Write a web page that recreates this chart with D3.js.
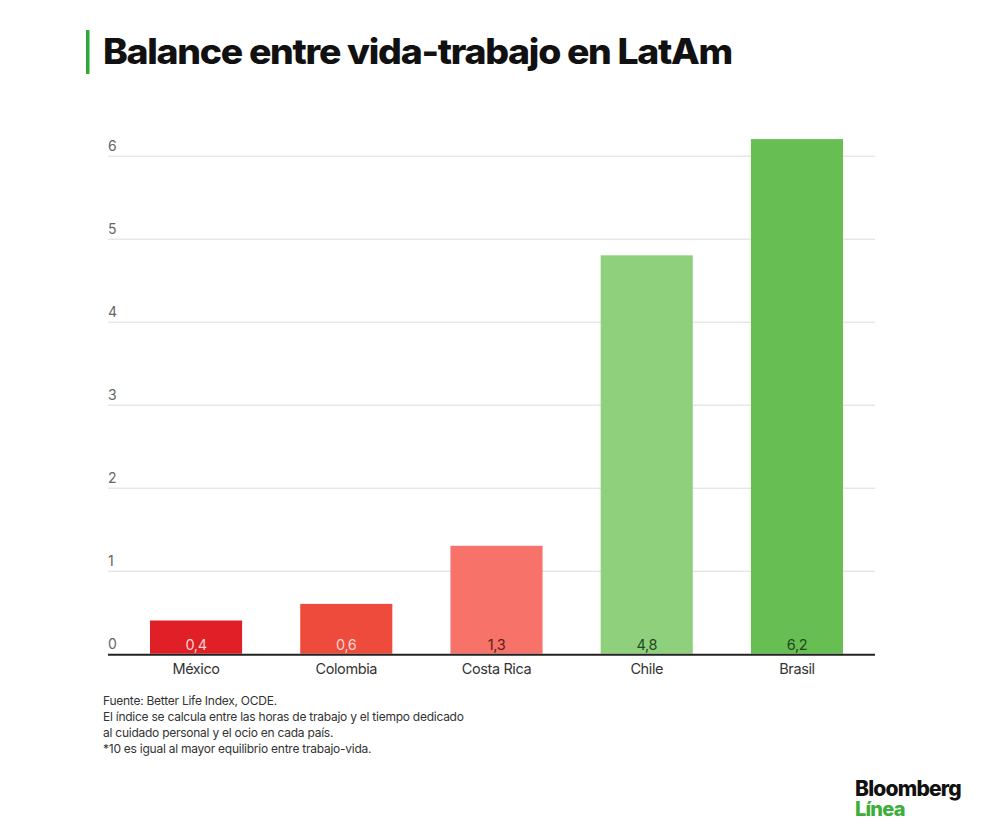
<!DOCTYPE html>
<html><head><meta charset="utf-8">
<script src="https://cdn.jsdelivr.net/npm/d3@7"></script>
<style>body{margin:0;background:#fff;} svg{display:block;}</style>
</head><body>
<svg id="c" width="1000" height="832"></svg>
<script>
const categories = ["México","Colombia","Costa Rica","Chile","Brasil"];
const values = [0.4,0.6,1.3,4.8,6.2];
const valueLabels = ["0,4","0,6","1,3","4,8","6,2"];
const barColors = ["#e01f26","#ef4b3c","#f7736a","#8fd07d","#67bf53"];
const labelColors = ["#fbd3cf","#fbd3cf","#5a1d19","#214a1c","#214a1c"];
const yTicks = [0,1,2,3,4,5,6];
const notes = ["Fuente: Better Life Index, OCDE.",
  "El índice se calcula entre las horas de trabajo y el tiempo dedicado",
  "al cuidado personal y el ocio en cada país.",
  "*10 es igual al mayor equilibrio entre trabajo-vida."];

const svg = d3.select("#c");
const x = d3.scaleBand().domain(categories).range([121,872]).paddingInner(0.387).paddingOuter(0.193);
const y = d3.scaleLinear().domain([0,6]).range([653.7,155.7]);
const gx0 = 108, gx1 = 875;

// title
svg.append("rect").attr("x",86).attr("y",30).attr("width",3.5).attr("height",44).attr("fill","#2ea836");
const title = svg.append("text").attr("x",103).attr("y",64).attr("font-family","Inter, Roboto, sans-serif")
  .attr("font-weight",800).attr("font-size",35).attr("fill","#111").attr("letter-spacing",-1.2)
  .text("Balance entre vida-trabajo en LatAm");
const tw = title.node().getComputedTextLength();
if (tw>0) title.attr("textLength",629).attr("lengthAdjust","spacingAndGlyphs");

// gridlines
const yAxis = d3.axisLeft(y).tickValues(yTicks.filter(d=>d>0)).tickSize(-(gx1-gx0)).tickFormat("");
const ga = svg.append("g").attr("transform",`translate(${gx0},0)`).call(yAxis);
ga.select(".domain").remove();
ga.selectAll(".tick line").attr("stroke","#dcdcdc").attr("stroke-width",1);

// tick labels
svg.append("g").selectAll("text").data(yTicks).join("text")
  .attr("x",gx0).attr("y",d=>y(d)-5).attr("font-family","Inter, Roboto, sans-serif")
  .attr("font-size",14).attr("fill","#666").text(d=>d);

// bars
svg.append("g").selectAll("rect").data(values).join("rect")
  .attr("x",(d,i)=>x(categories[i])).attr("width",x.bandwidth())
  .attr("y",d=>y(d)).attr("height",d=>y(0)-y(d)).attr("fill",(d,i)=>barColors[i]);

// value labels
svg.append("g").selectAll("text").data(values).join("text")
  .attr("x",(d,i)=>x(categories[i])+x.bandwidth()/2).attr("y",y(0)-4)
  .attr("text-anchor","middle").attr("font-family","Inter, Roboto, sans-serif")
  .attr("font-size",14.5).attr("fill",(d,i)=>labelColors[i]).attr("letter-spacing",-0.4).text((d,i)=>valueLabels[i]);

// baseline axis
const xAxis = d3.axisBottom(x).tickSize(0).tickPadding(9);
const gb = svg.append("g").attr("transform",`translate(0,${y(0)+1})`).call(xAxis);
gb.select(".domain").remove();
gb.selectAll(".tick text").attr("font-family","Inter, Roboto, sans-serif").attr("font-size",14.5)
  .attr("fill","#333").attr("letter-spacing",-0.4);
svg.append("line").attr("x1",gx0).attr("x2",gx1).attr("y1",y(0)+1).attr("y2",y(0)+1)
  .attr("stroke","#222").attr("stroke-width",2);

// notes
svg.append("g").selectAll("text").data(notes).join("text")
  .attr("x",103).attr("y",(d,i)=>705+i*16).attr("font-family","Inter, Roboto, sans-serif")
  .attr("font-size",12).attr("fill","#333").attr("letter-spacing",-0.25).text(d=>d);

// logo (one text block, two lines)
const logo = svg.append("text").attr("x",855).attr("y",796).attr("font-family","Inter, Roboto, sans-serif")
  .attr("font-weight",800).attr("font-size",21).attr("letter-spacing",-0.8);
logo.append("tspan").attr("x",855).attr("y",796).attr("fill","#111").text("Bloomberg");
logo.append("tspan").attr("x",855).attr("y",816).attr("font-size",20).attr("fill","#3dae3a").text("Línea");
</script>
</body></html>
